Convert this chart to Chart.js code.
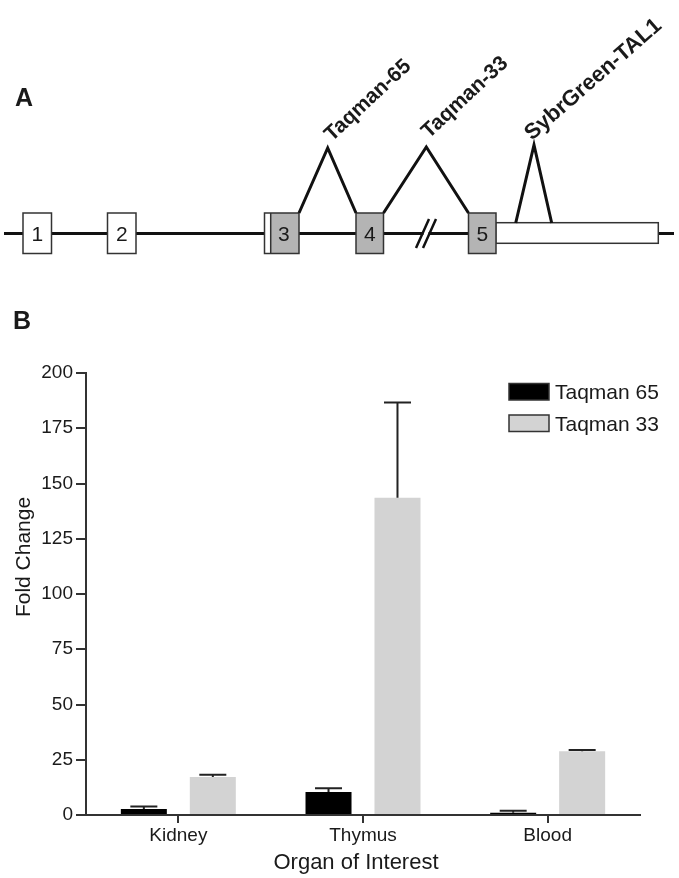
<!DOCTYPE html>
<html>
<head>
<meta charset="utf-8">
<script src="https://cdn.jsdelivr.net/npm/chart.js@4.4.1/dist/chart.umd.min.js"></script>
<style>
    html, body { margin: 0; padding: 0; background: #fff; }
</style>
</head>
<body>
<canvas id="chart_fold" width="679" height="878"></canvas>
<script>
const organs = ['Kidney', 'Thymus', 'Blood'];
const seriesNames = ['Taqman 65', 'Taqman 33'];
const taqman65 = [2.7, 10.4, 1.0];
const taqman65Err = [3.8, 12.1, 1.9];
const taqman33 = [17.2, 143.6, 28.8];
const taqman33Err = [18.2, 186.6, 29.4];
const yTicks = [0, 25, 50, 75, 100, 125, 150, 175, 200];

const FONT = '"Liberation Sans", Arial, Helvetica, sans-serif';
const INK = '#1a1a1a';

// panel A: gene schematic (exons + probe positions)
const exons = [
    { x: 23, w: 28.5, label: '1', fill: '#fff' },
    { x: 107.5, w: 28.5, label: '2', fill: '#fff' },
    { x: 264.5, w: 34.5, label: '3', fill: '#b4b4b4', utr: 6.2 },
    { x: 356, w: 27.5, label: '4', fill: '#b4b4b4' },
    { x: 468.5, w: 27.5, label: '5', fill: '#b4b4b4' },
];
const probes = [
    { feet: [299, 356], base: 213, apex: [327.7, 148], label: 'Taqman-65', at: [332, 142], angle: -43, size: 21 },
    { feet: [383.5, 468.5], base: 213, apex: [426.3, 147], label: 'Taqman-33', at: [429, 139], angle: -43, size: 21 },
    { feet: [515.7, 551.7], base: 223, apex: [534, 145], label: 'SybrGreen-TAL1', at: [532, 141], angle: -41, size: 22 },
];

const genePlugin = {
    id: 'geneDiagram',
    afterDraw(chart) {
        const ctx = chart.ctx;
        ctx.save();
        // panel letters
        ctx.fillStyle = INK;
        ctx.font = `bold 25px ${FONT}`;
        ctx.textAlign = 'left';
        ctx.textBaseline = 'alphabetic';
        ctx.fillText('A', 15, 106);
        ctx.fillText('B', 13, 329);

        // backbone
        ctx.strokeStyle = '#111';
        ctx.lineWidth = 3;
        ctx.beginPath();
        ctx.moveTo(4, 233.5);
        ctx.lineTo(674, 233.5);
        ctx.stroke();

        // break mark
        ctx.fillStyle = '#fff';
        ctx.fillRect(423.5, 231, 5, 5);
        ctx.lineWidth = 2.5;
        ctx.beginPath();
        ctx.moveTo(416, 248); ctx.lineTo(429, 219);
        ctx.moveTo(423, 248); ctx.lineTo(436, 219);
        ctx.stroke();

        // 3' UTR
        ctx.fillStyle = '#fff';
        ctx.strokeStyle = '#333';
        ctx.lineWidth = 1.5;
        ctx.fillRect(495.7, 222.7, 162.6, 20.6);
        ctx.strokeRect(495.7, 222.7, 162.6, 20.6);

        // exons
        ctx.font = `21px ${FONT}`;
        ctx.textAlign = 'center';
        ctx.textBaseline = 'middle';
        exons.forEach(e => {
            ctx.fillStyle = e.fill;
            ctx.fillRect(e.x, 213, e.w, 40.5);
            if (e.utr) {
                ctx.fillStyle = '#fff';
                ctx.fillRect(e.x, 213, e.utr, 40.5);
                ctx.beginPath();
                ctx.moveTo(e.x + e.utr, 213);
                ctx.lineTo(e.x + e.utr, 253.5);
                ctx.stroke();
            }
            ctx.strokeRect(e.x, 213, e.w, 40.5);
            ctx.fillStyle = INK;
            const cx = e.utr ? e.x + e.utr + (e.w - e.utr) / 2 - 1 : e.x + e.w / 2;
            ctx.fillText(e.label, cx, 235);
        });

        // probes
        ctx.strokeStyle = '#111';
        ctx.lineWidth = 3;
        ctx.lineJoin = 'miter';
        probes.forEach(p => {
            ctx.beginPath();
            ctx.moveTo(p.feet[0], p.base);
            ctx.lineTo(p.apex[0], p.apex[1]);
            ctx.lineTo(p.feet[1], p.base);
            ctx.stroke();
            ctx.save();
            ctx.translate(p.at[0], p.at[1]);
            ctx.rotate(p.angle * Math.PI / 180);
            ctx.fillStyle = INK;
            ctx.font = `bold ${p.size}px ${FONT}`;
            ctx.textAlign = 'left';
            ctx.textBaseline = 'alphabetic';
            ctx.fillText(p.label, 0, 0);
            ctx.restore();
        });
        ctx.restore();
    }
};

const errorBars = {
    id: 'errorBars',
    afterDatasetsDraw(chart) {
        const ctx = chart.ctx;
        const y = chart.scales.y;
        chart.data.datasets.forEach((ds, i) => {
            chart.getDatasetMeta(i).data.forEach((bar, j) => {
                const top = y.getPixelForValue(ds.errorTop[j]);
                ctx.save();
                ctx.strokeStyle = '#222';
                ctx.lineWidth = 2;
                ctx.beginPath();
                ctx.moveTo(bar.x, bar.y);
                ctx.lineTo(bar.x, top);
                ctx.moveTo(bar.x - 13.5, top);
                ctx.lineTo(bar.x + 13.5, top);
                ctx.stroke();
                ctx.restore();
            });
        });
    }
};

const legendAndTitles = {
    id: 'legendAndTitles',
    afterDraw(chart) {
        const ctx = chart.ctx;
        ctx.save();
        // legend
        const rows = [400.5, 432];
        chart.data.datasets.forEach((ds, i) => {
            ctx.fillStyle = ds.backgroundColor;
            ctx.strokeStyle = '#333';
            ctx.lineWidth = 1.5;
            ctx.fillRect(509, rows[i] - 17, 40, 16.5);
            ctx.strokeRect(509, rows[i] - 17, 40, 16.5);
            ctx.fillStyle = INK;
            ctx.font = `21px ${FONT}`;
            ctx.textAlign = 'left';
            ctx.textBaseline = 'alphabetic';
            ctx.fillText(ds.label, 555, rows[i] - 1.5);
        });
        // axis titles
        ctx.font = `22px ${FONT}`;
        ctx.textAlign = 'center';
        ctx.fillText('Organ of Interest', 356, 869);
        ctx.translate(30, 557);
        ctx.rotate(-Math.PI / 2);
        ctx.font = `21px ${FONT}`;
        ctx.fillText('Fold Change', 0, 0);
        ctx.restore();
    }
};

new Chart(document.getElementById('chart_fold'), {
    type: 'bar',
    data: {
        labels: organs,
        datasets: [
            {
                label: seriesNames[0],
                data: taqman65,
                errorTop: taqman65Err,
                backgroundColor: '#000000',
                borderWidth: 0,
                categoryPercentage: 0.747,
                barPercentage: 0.667,
            },
            {
                label: seriesNames[1],
                data: taqman33,
                errorTop: taqman33Err,
                backgroundColor: '#d3d3d3',
                borderWidth: 0,
                categoryPercentage: 0.747,
                barPercentage: 0.667,
            },
        ]
    },
    options: {
        responsive: false,
        animation: false,
        layout: { padding: { top: 373, right: 39, left: 0, bottom: 0 } },
        plugins: {
            legend: { display: false },
            tooltip: { enabled: false },
        },
        scales: {
            x: {
                afterFit: s => { s.height = 63; },
                grid: { offset: false, drawOnChartArea: false, drawTicks: true, tickLength: 8, color: '#333', lineWidth: 2 },
                border: { display: true, color: '#333', width: 2 },
                ticks: { color: INK, font: { family: FONT, size: 19 }, padding: 1 },
            },
            y: {
                min: yTicks[0],
                max: yTicks[yTicks.length - 1],
                afterFit: s => { s.width = 86; },
                afterBuildTicks: s => { s.ticks = yTicks.map(v => ({ value: v })); },
                grid: { drawOnChartArea: false, drawTicks: true, tickLength: 10, color: '#333', lineWidth: 2 },
                border: { display: true, color: '#333', width: 2 },
                ticks: { color: INK, font: { family: FONT, size: 19 }, padding: 3 },
            }
        }
    },
    plugins: [genePlugin, errorBars, legendAndTitles]
});
</script>
</body>
</html>
